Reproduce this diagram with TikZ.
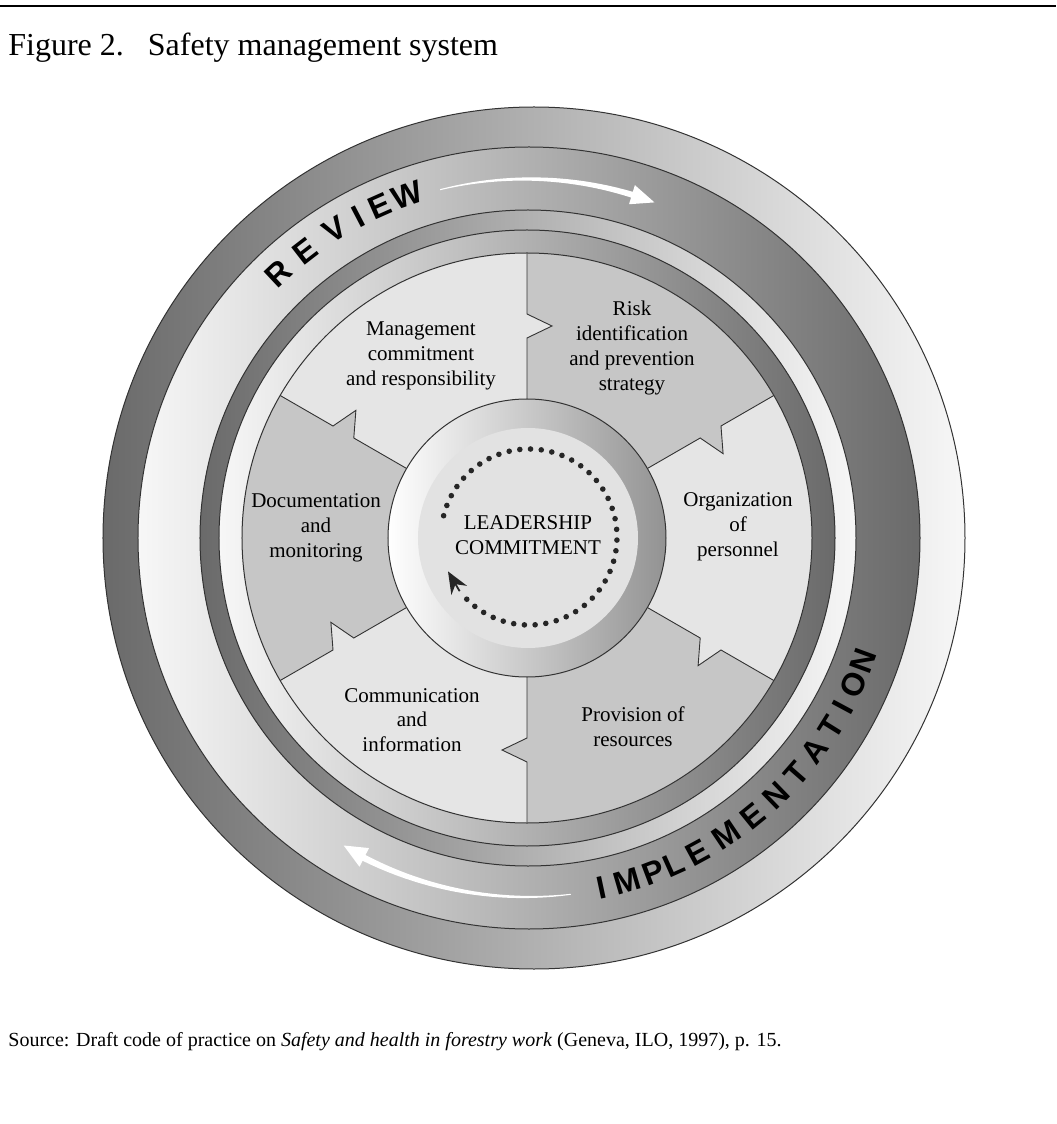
\documentclass[tikz,border=0pt]{standalone}
\usepackage{fontspec}
\setmainfont{Liberation Serif}
\setsansfont{Liberation Sans}
\usetikzlibrary{calc,arrows.meta}

\definecolor{bandlight}{HTML}{F7F7F7}
\definecolor{banddark}{HTML}{6A6A6A}
\definecolor{seglight}{HTML}{E5E5E5}
\definecolor{segdark}{HTML}{C6C6C6}
\definecolor{hubface}{HTML}{E2E2E2}
\definecolor{edgegray}{HTML}{333333}

\tikzset{
  ringline/.style={draw=edgegray, line width=0.5pt},
  bevelout/.style={left color=banddark, right color=bandlight},
  bevelin/.style={left color=bandlight, right color=banddark},
  segline/.style={draw=edgegray, line width=0.45pt, line join=miter},
  segtext/.style={align=center, font=\fontsize{10.5}{12.4}\selectfont, inner sep=0pt},
  bandletter/.style={font=\sffamily\bfseries\fontsize{16}{16}\selectfont, inner sep=0pt},
}

\begin{document}
\begin{tikzpicture}[x=0.5pt,y=0.5pt]
\useasboundingbox (-527,-586) rectangle (529,538);
\draw[line width=1pt] (-527,532) -- (529,532);
\node[anchor=base west, inner sep=0pt, font=\fontsize{16}{16}\selectfont] (title) at (-519,482)
  {Figure 2.\hspace{12pt}Safety management system};
%% rings, from outside in
\shade[bevelout] (7,0) circle [radius=431];
\shade[bevelin] (2,0) circle [radius=391];
\shade[bevelout] (1,0) circle [radius=328];
\shade[bevelin] (0,0) circle [radius=308];
\draw[ringline] (7,0) circle [radius=431];
\draw[ringline] (2,0) circle [radius=391];
\draw[ringline] (1,0) circle [radius=328];
\draw[ringline] (0,0) circle [radius=308];
%% wheel of six parts
\fill[seglight] (0,0) circle [radius=285];
\foreach \a in {30,150,270}
  \fill[segdark] (\a:139) -- (\a:200) -- ($(\a:212)+(\a-90:25)$) -- (\a:224) -- (\a:285)
    arc [start angle=\a, end angle=\a+60, radius=285]
    -- (\a+60:224) -- ($(\a+60:212)+(\a-30:25)$) -- (\a+60:200) -- (\a+60:139)
    arc [start angle=\a+60, end angle=\a, radius=139] -- cycle;
\foreach \a in {30,90,...,330}
  \draw[segline] (\a:139) -- (\a:200) -- ($(\a:212)+(\a-90:25)$) -- (\a:224) -- (\a:285);
\draw[ringline] (0,0) circle [radius=285];
%% hub
\shade[left color=white, right color=gray!85] (0,0) circle [radius=139];
\fill[hubface] (1,0) circle [radius=110];
\draw[ringline] (0,0) circle [radius=139];
\foreach \a in {166,159,...,-135}
  \fill[black!85] ($(2,1)+(\a:88)$) circle [radius=2.8];
\draw[black!85, line width=0.9pt, -{Stealth[length=11pt,width=9pt]}]
  ($(2,1)+(-142:88)$) -- ($(2,1)+(-157:88)$);
%% white flow arrows
\fill[white] plot[domain=104:73, samples=25] (\x:{359.5+0.08*(104-\x)})
  -- (73:369) -- (69.2:359) -- (73:349)
  -- plot[domain=73:104, samples=25] (\x:{358.5-0.08*(104-\x)}) -- cycle;
\fill[white] plot[domain=-83:-117, samples=25] (\x:{359.5+0.08*(-83-\x)})
  -- (-117:369) -- (-120.8:358) -- (-117:348)
  -- plot[domain=-117:-83, samples=25] (\x:{358.5-0.08*(-83-\x)}) -- cycle;
%% band words
\foreach \ang/\ch [count=\i] in {133.2/R,127.7/E,121.9/V,117.6/I,113.9/E,109.2/W}
  \node[bandletter, rotate=\ang-90] (review\i) at (\ang:363) {\ch};
\foreach \ang/\ch [count=\i] in {-78.0/I,-73.7/M,-69.3/P,-65.8/L,-61.5/E,-56.1/M,-50.9/E,
    -46.0/N,-41.2/T,-36.5/A,-31.9/T,-28.2/I,-24.2/O,-20.1/N}
  \node[bandletter, rotate=\ang+90] (impl\i) at (\ang:358) {\ch};
%% labels
\node[segtext] (lead) at (1,3) {LEADERSHIP\\COMMITMENT};
\node[segtext] (mgmt) at (-106,182) {Management\\commitment\\and responsibility};
\node[segtext] (risk) at (105,190) {Risk\\identification\\and prevention\\strategy};
\node[segtext] (orga) at (211,11) {Organization\\of\\personnel};
\node[segtext] (prov) at (106,-189) {Provision of\\resources};
\node[segtext] (comm) at (-115,-182) {Communication\\and\\information};
\node[segtext] (docu) at (-211,10) {Documentation\\and\\monitoring};
\node[anchor=base west, inner sep=0pt, font=\fontsize{10}{12}\selectfont] (source) at (-519,-508)
  {Source: Draft code of practice on \textit{Safety and health in forestry work} (Geneva, ILO, 1997), p. 15.};
\end{tikzpicture}
\end{document}
